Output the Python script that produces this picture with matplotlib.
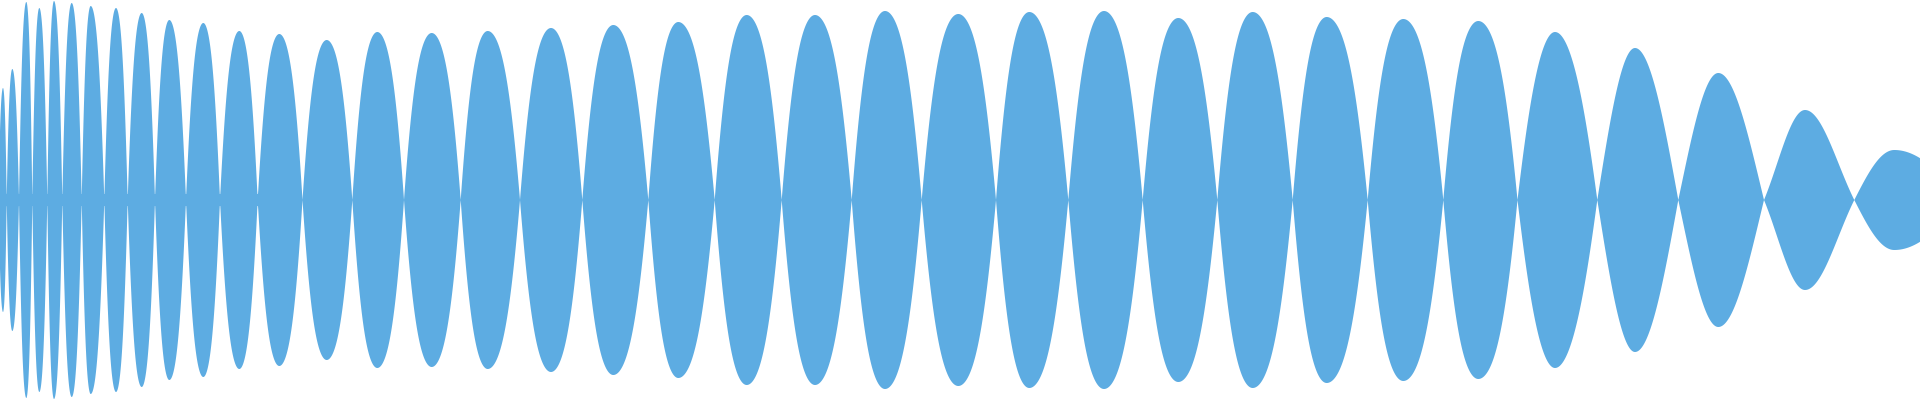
import numpy as np
import matplotlib
matplotlib.use("Agg")
import matplotlib.pyplot as plt

# node positions (where the envelope pinches to zero), lobe peak positions and peak heights
crossings = [-1.5, 6.7, 19, 32.3, 47.3, 62.3, 81.7, 104.3, 127.7, 155, 186, 220,
             257.7, 302.5, 352.3, 404, 460.7, 520, 582.3, 648.3, 714.7, 781.7,
             851.7, 921.7, 996, 1068.3, 1142.7, 1217.3, 1292.7, 1367.7, 1443.3,
             1517.5, 1597.3, 1678.3, 1764, 1854.3, 1964]
peak_x = [3, 12.3, 26.3, 39.3, 54, 71.7, 90.7, 116, 141.7, 169.3, 203.3, 239.3,
          279.3, 326.7, 377.3, 431.7, 487.7, 551, 613.3, 678.3, 746.7, 815, 885,
          958.3, 1029.3, 1104, 1178.3, 1252.7, 1326.7, 1403.3, 1478.3, 1555,
          1635, 1718.3, 1805, 1894.3]
peak_amp = [112, 131, 198, 192, 199, 197, 194, 192, 187, 180, 177, 169, 166,
            160, 168, 167, 169, 172, 175, 178, 185, 185, 189, 186, 188, 189,
            182, 188, 183, 181, 179, 168, 152, 127, 90, 50]

color = "#5DACE2"
# lobe fullness: >0 rounder than a plain sine, <0 more pointed
fullness = [0.45] * 31 + [0.2, 0.0, -0.05, -0.3, 0.0]


def lobe(c0, p, c1, a, c, n=80):
    # rising quarter-sine up to the peak, falling quarter-cosine down to the next node
    xl = np.linspace(c0, p, n)
    sl = np.sin(np.pi / 2 * (xl - c0) / (p - c0))
    xr = np.linspace(p, c1, n)[1:]
    sr = np.cos(np.pi / 2 * (xr - p) / (c1 - p))
    s = np.clip(np.concatenate([sl, sr]), 0, 1)
    return np.concatenate([xl, xr]), a * s * (1 + c * (1 - s))


xs, ys = [], []
for i in range(len(peak_x)):
    x, y = lobe(crossings[i], peak_x[i], crossings[i + 1], peak_amp[i], fullness[i])
    xs.append(x)
    ys.append(y)
xs = np.concatenate(xs)
ys = np.concatenate(ys)
# small carrier nub around the centre line in the dense left part
ys = np.where(xs < 260, np.maximum(ys, 6), ys)

fig = plt.figure(figsize=(19.2, 4), dpi=100)
ax = fig.add_axes([0, 0, 1, 1])
ax.fill_between(xs, -ys, ys, color=color, linewidth=0)
ax.set_xlim(0, 1920)
ax.set_ylim(-200, 200)
ax.axis("off")
fig.savefig("out.png", dpi=100, facecolor="white")
